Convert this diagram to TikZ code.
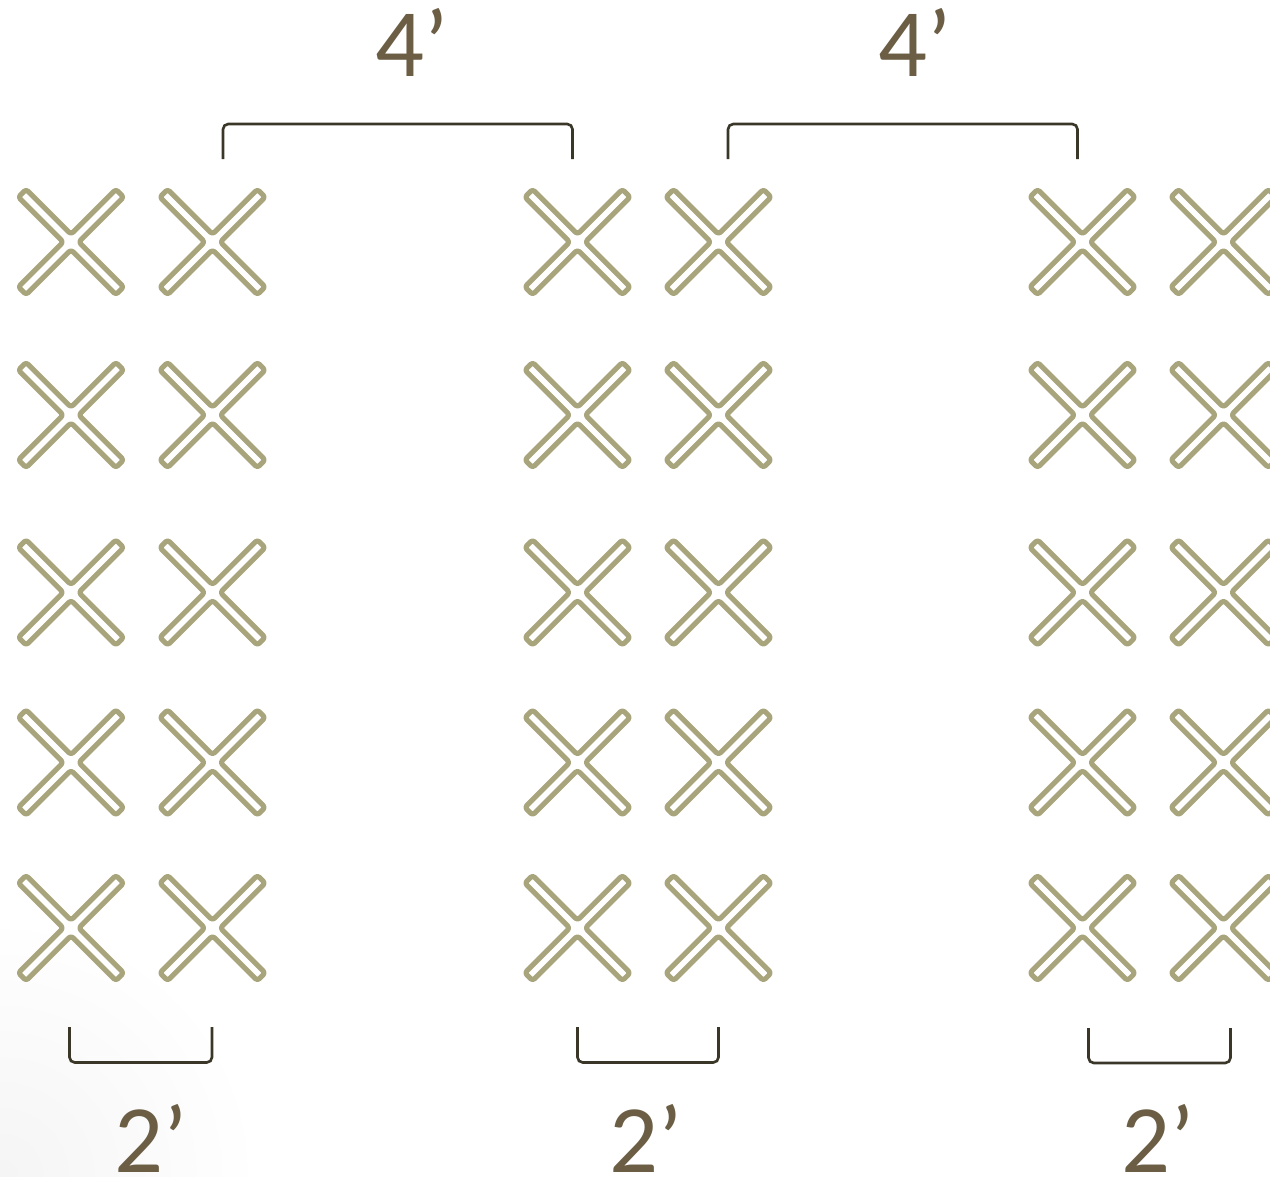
\documentclass[tikz,border=0pt]{standalone}
\usepackage{fontspec}
\setmainfont{Carlito}
\definecolor{xcol}{HTML}{A8A47C}
\definecolor{txtcol}{HTML}{6B5E45}
\definecolor{brcol}{HTML}{3B3728}
\tikzset{
  xline/.style={draw=xcol, line width=2.9pt, rounded corners=1.6pt, line join=round},
  brline/.style={draw=brcol, line width=1.5pt, rounded corners=3pt},
  dimlabel/.style={text=txtcol, font=\fontsize{55}{60}\selectfont, anchor=base, inner sep=0pt},
  xmark/.pic={
    \draw[xline, rotate=45] (5.5,5.5) -- (69,5.5) -- (69,-5.5) -- (5.5,-5.5) -- (5.5,-69) -- (-5.5,-69) -- (-5.5,-5.5)
      -- (-69,-5.5) -- (-69,5.5) -- (-5.5,5.5) -- (-5.5,69) -- (5.5,69) -- cycle;
  }
}
\begin{document}
\begin{tikzpicture}[x=0.02cm, y=-0.02cm]
\useasboundingbox (0,0) rectangle (1270,1176);
\begin{scope}
  \clip (0,0) rectangle (1270,1176);
  \shade[inner color=black!4, outer color=white] (0,1176) circle (260);
\end{scope}
% X marks
\foreach \cx [count=\i] in {71,212.5,577.5,718.5,1082.5,1223.5} {
  \foreach \cy [count=\j] in {242,415,592.5,762.5,928} {
    \pic (x\i\j) at (\cx,\cy) {xmark};
  }
}
% top brackets
\coordinate (ta1) at (223,159); \coordinate (tb1) at (572.5,159);
\coordinate (ta2) at (728,159); \coordinate (tb2) at (1077.5,159);
\draw[brline] (ta1) -- (ta1 |- 0,124) -- (tb1 |- 0,124) -- (tb1);
\draw[brline] (ta2) -- (ta2 |- 0,124) -- (tb2 |- 0,124) -- (tb2);
% bottom brackets
\coordinate (ba1) at (69.5,1027); \coordinate (bb1) at (212,1027);
\coordinate (ba2) at (577.5,1027); \coordinate (bb2) at (718.5,1027);
\coordinate (ba3) at (1088.5,1028); \coordinate (bb3) at (1230.5,1028);
\draw[brline] (ba1) -- (ba1 |- 0,1062.5) -- (bb1 |- 0,1062.5) -- (bb1);
\draw[brline] (ba2) -- (ba2 |- 0,1062.5) -- (bb2 |- 0,1062.5) -- (bb2);
\draw[brline] (ba3) -- (ba3 |- 0,1063) -- (bb3 |- 0,1063) -- (bb3);
% labels
\node[dimlabel] (l4a) at (412.5,77) {4’};
\node[dimlabel] (l4b) at (915.5,77) {4’};
\node[dimlabel] (l2a) at (151.5,1172) {2’};
\node[dimlabel] (l2b) at (646.5,1172) {2’};
\node[dimlabel] (l2c) at (1158,1172) {2’};
\end{tikzpicture}
\end{document}
